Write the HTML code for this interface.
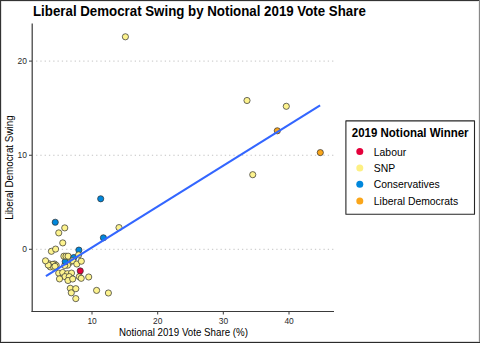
<!DOCTYPE html>
<html><head><meta charset="utf-8"><style>
html,body{margin:0;padding:0;background:#fff;}
body{width:480px;height:343px;overflow:hidden;position:relative;font-family:"Liberation Sans",sans-serif;}
svg{position:absolute;left:0;top:0;}
</style></head><body>
<svg width="480" height="343" viewBox="0 0 480 343" font-family="Liberation Sans, sans-serif">
<rect x="0" y="0" width="480" height="1" fill="#333"/>
<rect x="0" y="0" width="1" height="343" fill="#333"/>
<rect x="1" y="1" width="478" height="0.25" fill="#999"/>
<rect x="1" y="1" width="0.3" height="341" fill="#999"/>
<rect x="478" y="1" width="1" height="341" fill="#ededed"/>
<rect x="479" y="0" width="1" height="343" fill="#888"/>
<rect x="1" y="341" width="478" height="1" fill="#dcdcdc"/>
<rect x="0" y="342" width="480" height="1" fill="#2b2b2b"/>
<text transform="translate(33,15.8) scale(1,1.1)" font-size="13.3" font-weight="bold" fill="#000">Liberal Democrat Swing by Notional 2019 Vote Share</text>
<g stroke="#c4c4c4" stroke-width="1" stroke-dasharray="1.3 2.99">
<line x1="36.05" y1="61.1" x2="334" y2="61.1"/>
<line x1="36.05" y1="155.25" x2="334" y2="155.25"/>
<line x1="36.05" y1="249.3" x2="334" y2="249.3"/>
</g>
<g stroke="#2e2e2e" stroke-width="0.7"><circle cx="49.0" cy="263.8" r="3.1" fill="#FDF38E" fill-opacity="1"/><circle cx="54.5" cy="264.0" r="3.1" fill="#FDF38E" fill-opacity="1"/><circle cx="51.0" cy="265.5" r="3.1" fill="#FDF38E" fill-opacity="1"/><circle cx="56.2" cy="265.4" r="3.1" fill="#FDF38E" fill-opacity="1"/><circle cx="52.8" cy="264.4" r="3.1" fill="#FDF38E" fill-opacity="1"/><circle cx="50.3" cy="266.9" r="3.1" fill="#FDF38E" fill-opacity="1"/><circle cx="53.6" cy="267.2" r="3.1" fill="#FDF38E" fill-opacity="1"/><circle cx="48.2" cy="265.0" r="3.1" fill="#FDF38E" fill-opacity="1"/><circle cx="55.0" cy="266.3" r="3.1" fill="#FDF38E" fill-opacity="1"/><circle cx="45.5" cy="260.8" r="3.1" fill="#FDF38E" fill-opacity="1"/><circle cx="58.7" cy="273.1" r="3.1" fill="#FDF38E" fill-opacity="1"/><circle cx="62.7" cy="272.5" r="3.1" fill="#FDF38E" fill-opacity="1"/><circle cx="67.4" cy="273.7" r="3.1" fill="#FDF38E" fill-opacity="1"/><circle cx="71.5" cy="273.1" r="3.1" fill="#FDF38E" fill-opacity="1"/><circle cx="65" cy="276.6" r="3.1" fill="#FDF38E" fill-opacity="1"/><circle cx="69.2" cy="276.6" r="3.1" fill="#FDF38E" fill-opacity="1"/><circle cx="68" cy="280.5" r="3.1" fill="#FDF38E" fill-opacity="1"/><circle cx="72.7" cy="279" r="3.1" fill="#FDF38E" fill-opacity="1"/><circle cx="59.5" cy="278.9" r="3.1" fill="#FDF38E" fill-opacity="1"/><circle cx="79.3" cy="276.7" r="3.1" fill="#FDF38E" fill-opacity="1"/><circle cx="81.2" cy="278.3" r="3.1" fill="#FDF38E" fill-opacity="1"/><circle cx="80.25" cy="270.9" r="3.1" fill="#E4003B" fill-opacity="1"/><circle cx="88.7" cy="277" r="3.1" fill="#FDF38E" fill-opacity="1"/><circle cx="70.3" cy="288.3" r="3.1" fill="#FDF38E" fill-opacity="1"/><circle cx="71.3" cy="292.8" r="3.1" fill="#FDF38E" fill-opacity="1"/><circle cx="75.8" cy="288.7" r="3.1" fill="#FDF38E" fill-opacity="1"/><circle cx="75.8" cy="298.6" r="3.1" fill="#FDF38E" fill-opacity="1"/><circle cx="96.6" cy="290.4" r="3.1" fill="#FDF38E" fill-opacity="1"/><circle cx="108.4" cy="293" r="3.1" fill="#FDF38E" fill-opacity="1"/><circle cx="69.4" cy="262.7" r="3.1" fill="#FDF38E" fill-opacity="1"/><circle cx="67.6" cy="265.2" r="3.1" fill="#FDF38E" fill-opacity="1"/><circle cx="64.7" cy="265.5" r="3.1" fill="#FDF38E" fill-opacity="1"/><circle cx="65.2" cy="261.6" r="3.1" fill="#0087DC" fill-opacity="1"/><circle cx="63.9" cy="256.2" r="3.1" fill="#FDF38E" fill-opacity="1"/><circle cx="66.0" cy="256.2" r="3.1" fill="#FDF38E" fill-opacity="1"/><circle cx="68.1" cy="256.2" r="3.1" fill="#FDF38E" fill-opacity="1"/><circle cx="73.8" cy="257.5" r="3.1" fill="#0087DC" fill-opacity="1"/><circle cx="72.8" cy="260.7" r="3.1" fill="#FDF38E" fill-opacity="1"/><circle cx="76.8" cy="264.0" r="3.1" fill="#FDF38E" fill-opacity="1"/><circle cx="78.9" cy="250.1" r="3.1" fill="#0087DC" fill-opacity="1"/><circle cx="78.6" cy="254.9" r="3.1" fill="#FDF38E" fill-opacity="1"/><circle cx="81.3" cy="261.2" r="3.1" fill="#FDF38E" fill-opacity="1"/><circle cx="62.75" cy="242.9" r="3.1" fill="#FDF38E" fill-opacity="1"/><circle cx="51.4" cy="251.3" r="3.1" fill="#FDF38E" fill-opacity="1"/><circle cx="55.6" cy="249.1" r="3.1" fill="#FDF38E" fill-opacity="1"/><circle cx="64.75" cy="227.9" r="3.1" fill="#FDF38E" fill-opacity="1"/><circle cx="58.75" cy="232.9" r="3.1" fill="#FDF38E" fill-opacity="1"/><circle cx="55.25" cy="222.25" r="3.1" fill="#0087DC" fill-opacity="1"/><circle cx="125.4" cy="36.8" r="3.1" fill="#FDF38E" fill-opacity="1"/><circle cx="247.0" cy="100.5" r="3.1" fill="#FDF38E" fill-opacity="1"/><circle cx="286.3" cy="106.3" r="3.1" fill="#FDF38E" fill-opacity="1"/><circle cx="252.75" cy="174.7" r="3.1" fill="#FDF38E" fill-opacity="1"/><circle cx="119.0" cy="227.6" r="3.1" fill="#FDF38E" fill-opacity="1"/><circle cx="100.7" cy="198.8" r="3.1" fill="#0087DC" fill-opacity="1"/><circle cx="103.4" cy="237.8" r="3.1" fill="#0087DC" fill-opacity="1"/><circle cx="277.3" cy="130.8" r="3.1" fill="#FAA61A" fill-opacity="1"/><circle cx="320.3" cy="152.6" r="3.1" fill="#FAA61A" fill-opacity="1"/></g>
<line x1="45.9" y1="276.2" x2="320.1" y2="105.4" stroke="#3366FF" stroke-width="2.1" stroke-linecap="butt"/>
<g stroke="#3a3a3a" stroke-width="1">
<line x1="32.2" y1="23.5" x2="32.2" y2="312" stroke="#383838" stroke-width="1.2"/>
<line x1="31.5" y1="311.5" x2="334" y2="311.5"/>
<line x1="29" y1="61.1" x2="32" y2="61.1"/>
<line x1="29" y1="155.25" x2="32" y2="155.25"/>
<line x1="29" y1="249.3" x2="32" y2="249.3"/>
<line x1="92" y1="311.5" x2="92" y2="314.5"/>
<line x1="157.7" y1="311.5" x2="157.7" y2="314.5"/>
<line x1="223.3" y1="311.5" x2="223.3" y2="314.5"/>
<line x1="289" y1="311.5" x2="289" y2="314.5"/>
</g>
<g font-size="9" fill="#2a2a2a" text-anchor="end">
<text transform="translate(27,64.1) scale(0.94,1.06)">20</text>
<text transform="translate(27,158.3) scale(0.94,1.06)">10</text>
<text transform="translate(27,252.3) scale(0.94,1.06)">0</text>
</g>
<g font-size="9" fill="#2a2a2a" text-anchor="middle">
<text transform="translate(92.1,323.7) scale(0.94,1.06)">10</text>
<text transform="translate(157.8,323.7) scale(0.94,1.06)">20</text>
<text transform="translate(223.4,323.7) scale(0.94,1.06)">30</text>
<text transform="translate(289.1,323.7) scale(0.94,1.06)">40</text>
</g>
<text transform="translate(183.5,335.6) scale(1,1.1)" font-size="9.75" text-anchor="middle" fill="#000">Notional 2019 Vote Share (%)</text>
<text transform="translate(12.9,167.6) rotate(-90) scale(1,1.1)" font-size="9.85" text-anchor="middle" fill="#000">Liberal Democrat Swing</text>
<rect x="345.9" y="120.9" width="128.6" height="93.3" fill="#fff" stroke="#262626" stroke-width="1.1" stroke-linejoin="round"/>
<text transform="translate(351.8,136.6) scale(1,1.1)" font-size="11.5" font-weight="bold" fill="#000">2019 Notional Winner</text>
<circle cx="359.8" cy="151.5" r="3.5" fill="#E4003B"/>
<circle cx="359.8" cy="167.9" r="3.5" fill="#FDF084"/>
<circle cx="359.8" cy="184.2" r="3.5" fill="#0087DC"/>
<circle cx="359.8" cy="200.9" r="3.5" fill="#FAA61A"/>
<g font-size="10.4" fill="#000">
<text transform="translate(373.8,155.6) scale(1,1.1)">Labour</text>
<text transform="translate(373.8,171.8) scale(1,1.1)">SNP</text>
<text transform="translate(373.8,188.2) scale(1,1.1)">Conservatives</text>
<text transform="translate(373.8,204.8) scale(1,1.1)">Liberal Democrats</text>
</g>
</svg>
</body></html>
